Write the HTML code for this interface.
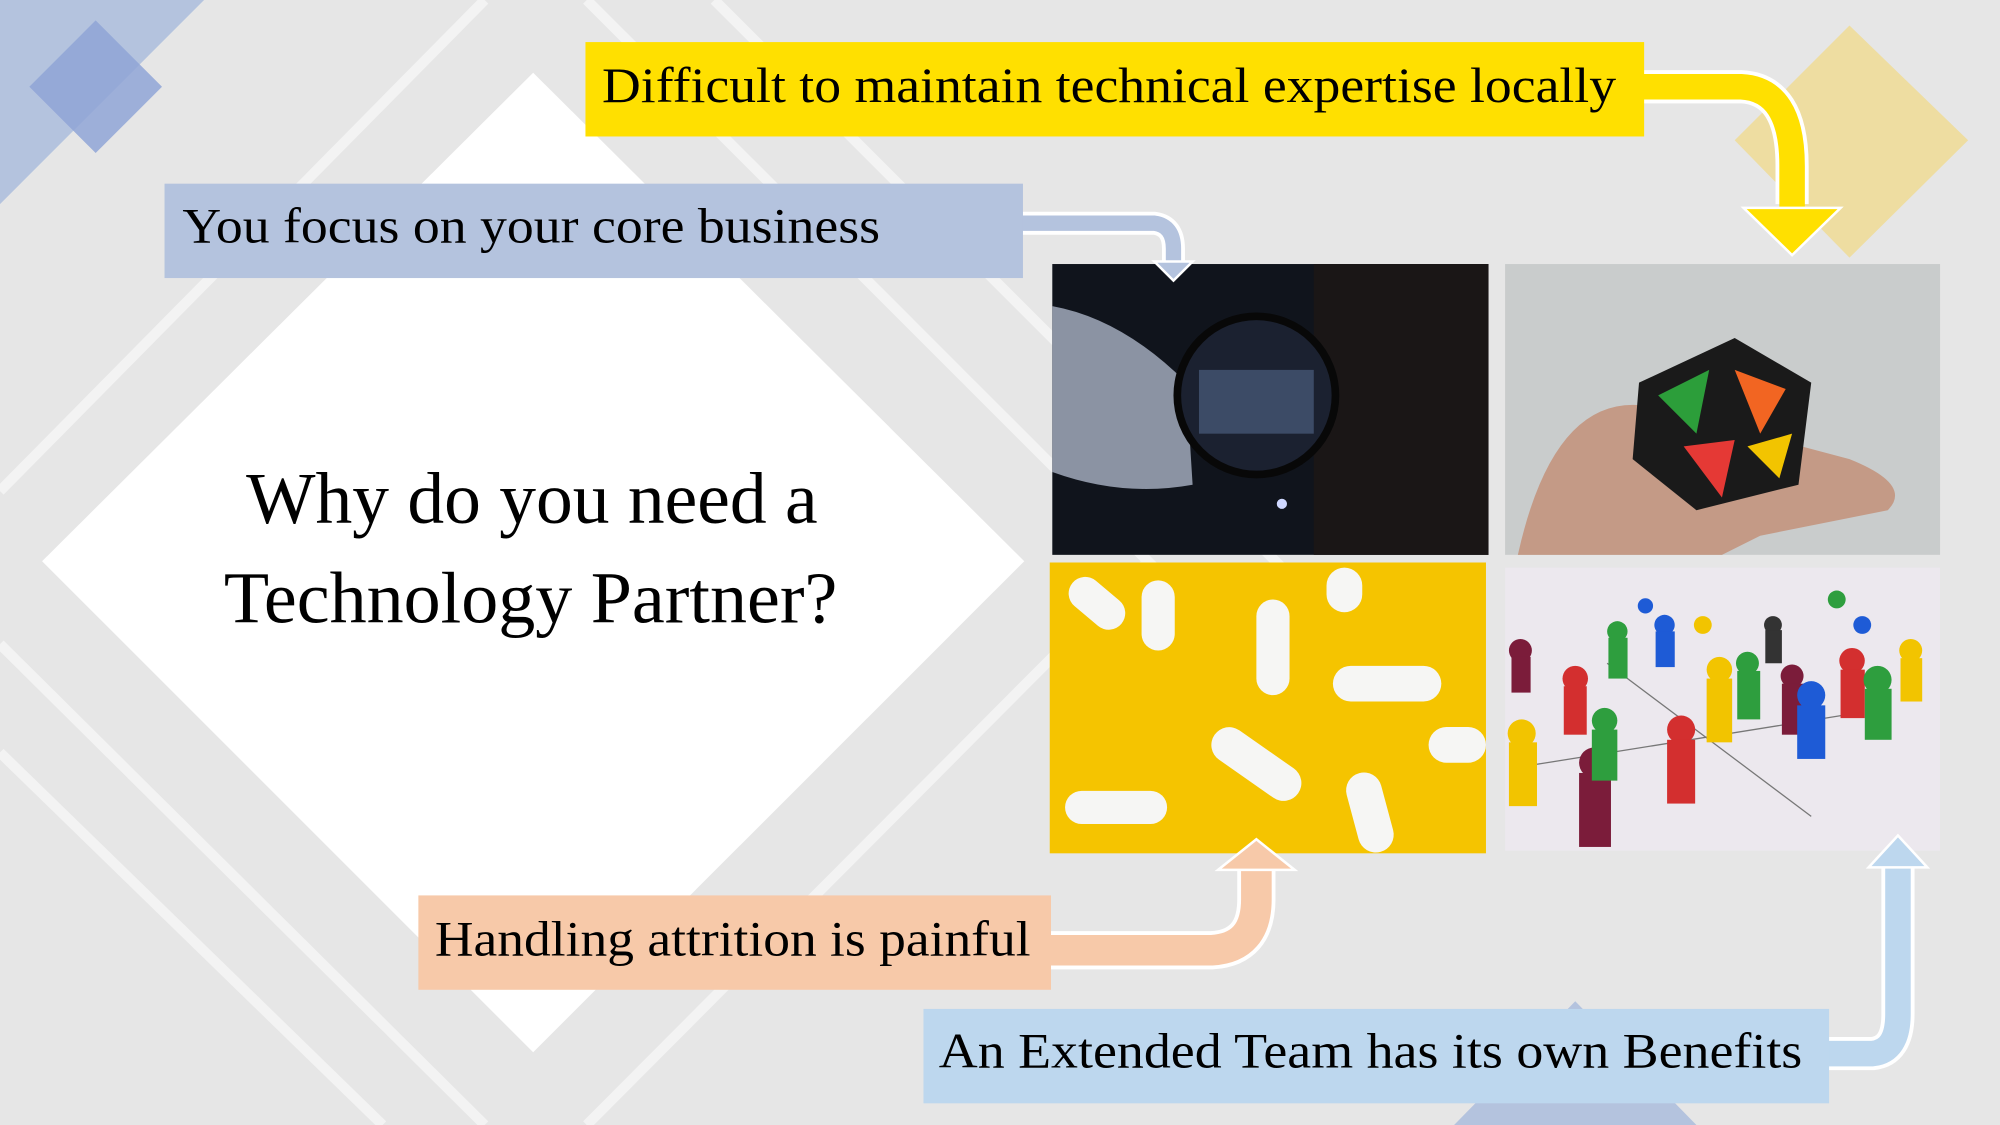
<!DOCTYPE html>
<html><head><meta charset="utf-8"><style>
html,body{margin:0;padding:0;width:2000px;height:1125px;overflow:hidden;background:#e6e6e6}
svg{display:block}
text{font-family:"Liberation Serif",serif;fill:#000}
</style></head><body>
<svg width="2000" height="1125" viewBox="0 0 1568 882">
<rect width="1568" height="882" fill="#e6e6e6"/>
<g stroke="#f3f3f3" stroke-width="8">
<line x1="380" y1="0" x2="0" y2="385"/>
<line x1="460" y1="0" x2="1000" y2="540"/>
<line x1="0" y1="505" x2="380" y2="882"/>
<line x1="0" y1="590" x2="300" y2="882"/>
<line x1="560" y1="0" x2="1110" y2="550"/>
<line x1="900" y1="440" x2="460" y2="882"/>
</g>
<polygon points="0,0 160,0 0,160" fill="#b4c3de"/>
<polygon points="75,16 127,68 75,120 23,68" fill="#8fa5d6" opacity="0.85"/>
<polygon points="1450,20 1543,110 1450,202 1360,110" fill="#f0d98a" opacity="0.75"/>
<polygon points="1140,882 1235,785 1330,882" fill="#b4c3de"/>
<polygon points="418,57 803,440 418,825 33,440" fill="#ffffff"/>
<text x="417" y="410" font-size="57" text-anchor="middle" textLength="448" lengthAdjust="spacingAndGlyphs">Why do you need a</text>
<text x="416" y="488" font-size="57" text-anchor="middle" textLength="481" lengthAdjust="spacingAndGlyphs">Technology Partner?</text>

<g>
<rect x="825" y="207" width="342" height="228" fill="#10141c"/>
<rect x="1030" y="207" width="137" height="228" fill="#1a1616"/>
<path d="M825,240 Q880,250 930,300 L935,380 Q880,390 825,370 Z" fill="#8b93a3"/>
<circle cx="985" cy="310" r="62" fill="#1b2130" stroke="#080808" stroke-width="6"/>
<rect x="940" y="290" width="90" height="50" fill="#3c4b66"/>
<circle cx="1005" cy="395" r="4" fill="#cfd8ff"/>
</g>
<g>
<rect x="1180" y="207" width="341" height="228" fill="#c9cccc"/>
<path d="M1190,435 Q1220,300 1300,320 L1450,360 Q1500,380 1480,400 L1380,420 L1350,435 Z" fill="#c49a86"/>
<polygon points="1285,300 1360,265 1420,300 1410,380 1330,400 1280,360" fill="#1a1a1a"/>
<polygon points="1300,310 1340,290 1330,340" fill="#2c9e3a"/>
<polygon points="1360,290 1400,305 1380,340" fill="#f26522"/>
<polygon points="1320,350 1360,345 1350,390" fill="#e53935"/>
<polygon points="1370,350 1405,340 1395,375" fill="#f2c400"/>
</g>
<g>
<rect x="823" y="441" width="342" height="228" fill="#f5c400"/>
<g fill="#f6f6f4">
<rect x="835" y="460" width="50" height="26" rx="13" transform="rotate(40 860 473)"/>
<rect x="895" y="455" width="26" height="55" rx="13"/>
<rect x="985" y="470" width="26" height="75" rx="13"/>
<rect x="1045" y="522" width="85" height="28" rx="14"/>
<rect x="945" y="585" width="80" height="28" rx="14" transform="rotate(35 985 599)"/>
<rect x="1120" y="570" width="45" height="28" rx="14"/>
<rect x="835" y="620" width="80" height="26" rx="13"/>
<rect x="1060" y="605" width="28" height="64" rx="14" transform="rotate(-15 1074 637)"/>
<rect x="1040" y="445" width="28" height="35" rx="14"/>
</g>
</g>
<g>
<rect x="1180" y="445" width="341" height="222" fill="#ece8ee"/>
<g stroke="#777" stroke-width="1"><line x1="1200" y1="600" x2="1450" y2="560"/><line x1="1260" y1="520" x2="1420" y2="640"/></g>
<g>
<circle cx="1192" cy="510" r="9" fill="#7b1c3a"/><rect x="1185" y="515" width="15" height="28" fill="#7b1c3a"/>
<circle cx="1235" cy="532" r="10" fill="#d32f2f"/><rect x="1226" y="538" width="18" height="38" fill="#d32f2f"/>
<circle cx="1268" cy="495" r="8" fill="#2e9e3e"/><rect x="1261" y="500" width="15" height="32" fill="#2e9e3e"/>
<circle cx="1305" cy="490" r="8" fill="#1e5bd6"/><rect x="1298" y="495" width="15" height="28" fill="#1e5bd6"/>
<circle cx="1193" cy="575" r="11" fill="#f2c400"/><rect x="1183" y="582" width="22" height="50" fill="#f2c400"/>
<circle cx="1250" cy="598" r="12" fill="#7b1c3a"/><rect x="1238" y="606" width="25" height="58" fill="#7b1c3a"/>
<circle cx="1258" cy="565" r="10" fill="#2e9e3e"/><rect x="1248" y="572" width="20" height="40" fill="#2e9e3e"/>
<circle cx="1318" cy="572" r="11" fill="#d32f2f"/><rect x="1307" y="580" width="22" height="50" fill="#d32f2f"/>
<circle cx="1348" cy="525" r="10" fill="#f2c400"/><rect x="1338" y="532" width="20" height="50" fill="#f2c400"/>
<circle cx="1370" cy="520" r="9" fill="#2e9e3e"/><rect x="1362" y="526" width="18" height="38" fill="#2e9e3e"/>
<circle cx="1405" cy="530" r="9" fill="#7b1c3a"/><rect x="1397" y="536" width="18" height="40" fill="#7b1c3a"/>
<circle cx="1420" cy="545" r="11" fill="#1e5bd6"/><rect x="1409" y="553" width="22" height="42" fill="#1e5bd6"/>
<circle cx="1452" cy="518" r="10" fill="#d32f2f"/><rect x="1443" y="525" width="19" height="38" fill="#d32f2f"/>
<circle cx="1472" cy="533" r="11" fill="#2e9e3e"/><rect x="1462" y="540" width="21" height="40" fill="#2e9e3e"/>
<circle cx="1498" cy="510" r="9" fill="#f2c400"/><rect x="1490" y="516" width="17" height="34" fill="#f2c400"/>
<circle cx="1390" cy="490" r="7" fill="#333"/><rect x="1384" y="494" width="13" height="26" fill="#333"/>
<circle cx="1440" cy="470" r="7" fill="#2e9e3e"/><circle cx="1460" cy="490" r="7" fill="#1e5bd6"/>
<circle cx="1335" cy="490" r="7" fill="#f2c400"/><circle cx="1290" cy="475" r="6" fill="#1e5bd6"/>
</g>
</g>

<g>
<path d="M1286,68 L1365,68 Q1405,70 1405,130 L1405,160" fill="none" stroke="#fff" stroke-width="26"/>
<path d="M1286,68 L1365,68 Q1405,70 1405,130 L1405,165" fill="none" stroke="#ffe000" stroke-width="20"/>
<polygon points="1367,163 1443,163 1405,200" fill="#ffe000" stroke="#fff" stroke-width="2"/>
</g>
<g>
<path d="M798,175 L905,175 Q920,177 920,195 L920,205" fill="none" stroke="#fff" stroke-width="18"/>
<path d="M798,175 L905,175 Q920,177 920,195 L920,206" fill="none" stroke="#b4c3de" stroke-width="12"/>
<polygon points="905,205 935,205 920,220" fill="#b4c3de" stroke="#fff" stroke-width="2"/>
</g>
<g>
<path d="M823,745 L950,745 Q985,743 985,705 L985,680" fill="none" stroke="#fff" stroke-width="30"/>
<path d="M823,745 L950,745 Q985,743 985,705 L985,678" fill="none" stroke="#f7c9a9" stroke-width="24"/>
<polygon points="955,682 1015,682 985,658" fill="#f7c9a9" stroke="#fff" stroke-width="2"/>
</g>
<g>
<path d="M1428,826 L1468,826 Q1488,824 1488,795 L1488,680" fill="none" stroke="#fff" stroke-width="26"/>
<path d="M1428,826 L1468,826 Q1488,824 1488,795 L1488,678" fill="none" stroke="#bdd7ee" stroke-width="20"/>
<polygon points="1465,680 1511,680 1488,655" fill="#bdd7ee" stroke="#fff" stroke-width="2"/>
</g>

<g>
<rect x="459" y="33" width="830" height="74" fill="#ffe000"/>
<text x="472" y="80" font-size="39" textLength="795" lengthAdjust="spacingAndGlyphs">Difficult to maintain technical expertise locally</text>
</g>
<g>
<rect x="129" y="144" width="673" height="74" fill="#b4c3de"/>
<text x="143" y="190" font-size="39" textLength="547" lengthAdjust="spacingAndGlyphs">You focus on your core business</text>
</g>
<g>
<rect x="328" y="702" width="496" height="74" fill="#f7c9a9"/>
<text x="341" y="749" font-size="39" textLength="467" lengthAdjust="spacingAndGlyphs">Handling attrition is painful</text>
</g>
<g>
<rect x="724" y="791" width="710" height="74" fill="#bdd7ee"/>
<text x="736" y="837" font-size="39" textLength="677" lengthAdjust="spacingAndGlyphs">An Extended Team has its own Benefits</text>
</g>
</svg>
</body></html>
